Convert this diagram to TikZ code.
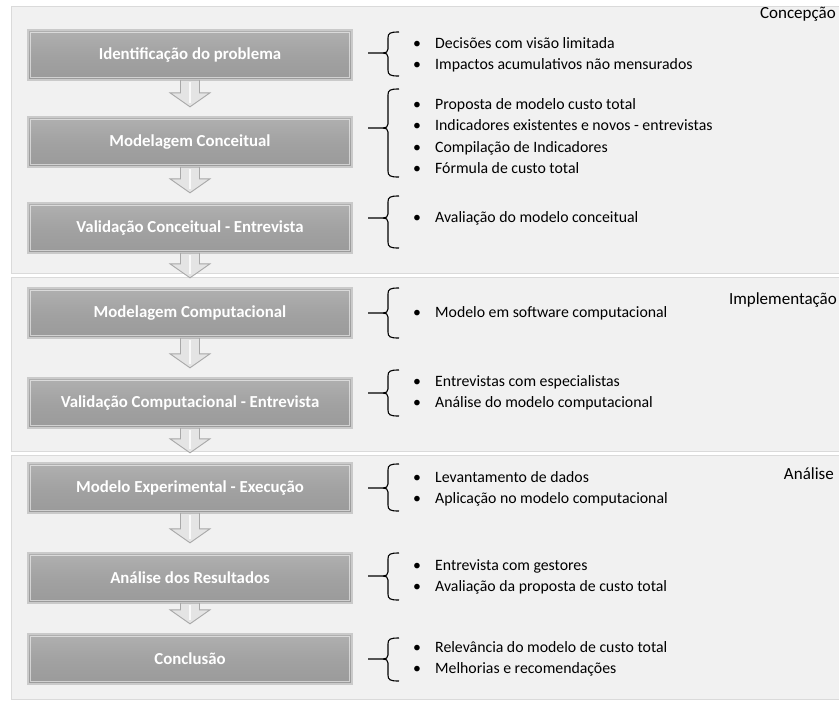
\documentclass[tikz,border=0pt]{standalone}
\usepackage{fontspec}
\setmainfont{Carlito}
\usetikzlibrary{calc}

\definecolor{panelfill}{HTML}{F1F1F1}
\definecolor{panelline}{HTML}{DADADA}
\definecolor{boxedge}{HTML}{CACACA}
\definecolor{boxtop}{HTML}{B0B0B0}
\definecolor{boxmid}{HTML}{A2A2A2}
\definecolor{boxbot}{HTML}{9A9A9A}
\definecolor{arrowfill}{HTML}{E4E4E4}
\definecolor{arrowline}{HTML}{A8A8A8}

% brace opening to the right: top y, tick y, bottom y
\newcommand\drawbrace[3]{%
  \draw[braceline] (399,#1) .. controls (390,#1) and (388,#1+1) .. (388,#1+6)
    -- (388,#2-4) .. controls (388,#2-1) and (386,#2) .. (383,#2) -- (368,#2);
  \draw[braceline] (383,#2) .. controls (386,#2) and (388,#2+1) .. (388,#2+4)
    -- (388,#3-6) .. controls (388,#3-1) and (390,#3) .. (399,#3);
}

\begin{document}
\begin{tikzpicture}[x=1pt,y=-1pt,
  panel/.style={fill=panelfill,draw=panelline,line width=0.8pt},
  stepbox/.style={minimum width=324pt,minimum height=50pt,inner sep=0pt,
    draw=boxedge,line width=2.4pt,top color=boxtop,bottom color=boxbot,
    middle color=boxmid,text=white,font=\fontsize{16.8}{20}\selectfont\bfseries,
    path picture={\draw[white,opacity=0.55,line width=1pt]
      ([shift={(2.5pt,-2.5pt)}]path picture bounding box.north west) rectangle
      ([shift={(-2.5pt,2.5pt)}]path picture bounding box.south east);}},
  itemlist/.style={anchor=west,align=left,inner sep=0pt,
    font=\fontsize{15.8}{21.5}\selectfont},
  phase/.style={anchor=east,inner sep=0pt,font=\fontsize{17}{20}\selectfont},
  braceline/.style={draw=black,line width=1.1pt,line join=round},
  blockarrow/.style={fill=arrowfill,draw=arrowline,line width=0.9pt,line join=miter,
    to path={let \p1=(\tikztostart), \p2=(\tikztotarget) in
      (\x1-9.5pt,\y1) -- (\x1-9.5pt,\y2+23pt) -- (\x1-20pt,\y2+23pt)
      -- (\x1,\y2+9pt) -- (\x1+20pt,\y2+23pt) -- (\x1+9.5pt,\y2+23pt)
      -- (\x1+9.5pt,\y1) -- cycle}},
  arrowcore/.style={draw=white,line width=1.4pt,opacity=0.8,
    to path={let \p1=(\tikztostart), \p2=(\tikztotarget) in
      (\x1,\y1-1pt) -- (\x1,\y2+13pt)}}
]
\useasboundingbox (0,0) rectangle (839,702);
\fill[white] (0,0) rectangle (839,702);

% phase panels
\path[panel] (11.5,6) rectangle (850,273);
\path[panel] (11.5,277) rectangle (850,451);
\path[panel] (11.5,455) rectangle (850,699);

\node[phase] (p1) at (836,14) {Concepção};
\node[phase] (p2) at (837,300) {Implementação};
\node[phase] (p3) at (834,474) {Análise};

% process steps
\node[stepbox] (b1) at (190,55)  {Identificação do problema};
\node[stepbox] (b2) at (190,142) {Modelagem Conceitual};
\node[stepbox] (b3) at (190,228) {Validação Conceitual - Entrevista};
\node[stepbox] (b4) at (190,313) {Modelagem Computacional};
\node[stepbox] (b5) at (190,403) {Validação Computacional - Entrevista};
\node[stepbox] (b6) at (190,488) {Modelo Experimental - Execução};
\node[stepbox] (b7) at (190,578) {Análise dos Resultados};
\node[stepbox] (b8) at (190,659) {Conclusão};

% hollow down arrows between steps
\foreach \a/\b in {b1/b2,b2/b3,b3/b4,b4/b5,b5/b6,b6/b7,b7/b8}{
  \draw[blockarrow] ([yshift=1pt]\a.south) to (\b.north);
  \draw[arrowcore] (\a.south) to (\b.north);
}

% detail lists
\newcommand\itm{\makebox[22pt][l]{\textbullet}}
\node[itemlist] (l1) at (413,55) {\itm Decisões com visão limitada\\ \itm Impactos acumulativos não mensurados};
\node[itemlist] (l2) at (413,136) {\itm Proposta de modelo custo total\\ \itm Indicadores existentes e novos - entrevistas\\ \itm Compilação de Indicadores\\ \itm Fórmula de custo total};
\node[itemlist] (l3) at (413,218) {\itm Avaliação do modelo conceitual};
\node[itemlist] (l4) at (413,313) {\itm Modelo em software computacional};
\node[itemlist] (l5) at (413,393) {\itm Entrevistas com especialistas\\ \itm Análise do modelo computacional};
\node[itemlist] (l6) at (413,489) {\itm Levantamento de dados\\ \itm Aplicação no modelo computacional};
\node[itemlist] (l7) at (413,577) {\itm Entrevista com gestores\\ \itm Avaliação da proposta de custo total};
\node[itemlist] (l8) at (413,659) {\itm Relevância do modelo de custo total\\ \itm Melhorias e recomendações};

% braces
\drawbrace{32}{53}{76}
\drawbrace{89}{128}{177}
\drawbrace{196}{218}{248}
\drawbrace{288}{313}{338}
\drawbrace{370}{393}{416}
\drawbrace{464}{488}{511}
\drawbrace{553}{576}{600}
\drawbrace{638}{659}{681}
\end{tikzpicture}
\end{document}
